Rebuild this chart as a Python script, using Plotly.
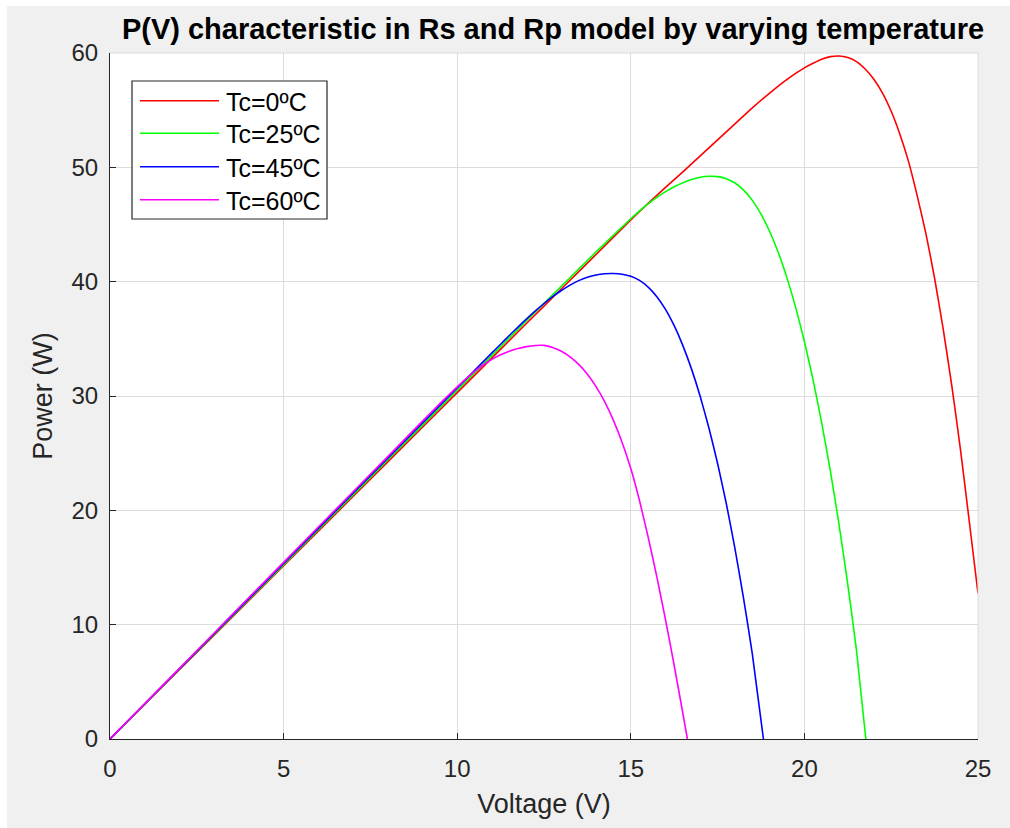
import plotly.graph_objects as go

# P(V) curves of the Rs/Rp single-diode model at four cell temperatures
v_0c = [0, 2, 4, 6, 8, 10, 12, 13, 14, 15, 15.5, 16, 16.5, 17, 17.5, 18, 18.5, 19, 19.5, 20,
        20.25, 20.5, 20.75, 21.0, 21.25, 21.5, 21.75, 22.0, 22.25, 22.5, 22.75, 23.0, 23.25,
        23.5, 23.75, 24.0, 24.25, 24.5, 24.75, 25.0]
p_0c = [0, 6.06, 12.12, 18.18, 24.24, 30.3, 36.36, 39.38, 42.38, 45.4, 46.85, 48.25, 49.6, 51.0,
        52.4, 53.8, 55.2, 56.5, 57.7, 58.7, 59.1, 59.45, 59.68, 59.74, 59.6, 59.25, 58.6, 57.7,
        56.5, 54.9, 52.9, 50.5, 47.5, 44.2, 40.3, 35.8, 30.8, 25.2, 19.0, 12.74]

v_25c = [0, 2, 4, 6, 8, 10, 12, 13, 14, 15, 15.25, 15.5, 15.75, 16.0, 16.25, 16.5, 16.75, 17.0,
         17.25, 17.5, 17.75, 18.0, 18.25, 18.5, 18.75, 19.0, 19.25, 19.5, 19.75, 20.0, 20.25,
         20.5, 20.75, 21.0, 21.25, 21.5, 21.77]
p_25c = [0, 6.1, 12.2, 18.3, 24.4, 30.5, 36.6, 39.6, 42.6, 45.5, 46.19, 46.81, 47.37, 47.87,
         48.3, 48.66, 48.94, 49.13, 49.22, 49.19, 49.01, 48.63, 48.01, 47.11, 45.91, 44.39, 42.53,
         40.31, 37.73, 34.77, 31.41, 27.63, 23.41, 18.71, 13.51, 7.76, 0]

v_45c = [0, 2, 4, 6, 8, 10, 11.0, 11.25, 11.5, 11.75, 12.0, 12.25, 12.5, 12.75, 13.0, 13.25,
         13.5, 13.75, 14.0, 14.25, 14.5, 14.75, 15.0, 15.25, 15.5, 15.75, 16.0, 16.25, 16.5,
         16.75, 17.0, 17.25, 17.5, 17.75, 18.0, 18.25, 18.5, 18.82]
p_45c = [0, 6.14, 12.28, 18.42, 24.56, 30.7, 33.77, 34.53, 35.29, 36.03, 36.75, 37.44, 38.09,
         38.69, 39.23, 39.7, 40.09, 40.39, 40.59, 40.69, 40.71, 40.65, 40.47, 40.11, 39.53, 38.69,
         37.57, 36.15, 34.41, 32.35, 29.95, 27.2, 24.1, 20.6, 16.65, 12.25, 7.45, 0]

v_60c = [0, 2, 4, 6, 8, 9, 9.5, 10.0, 10.25, 10.5, 10.75, 11.0, 11.25, 11.5, 11.75, 12.0, 12.25,
         12.5, 12.75, 13.0, 13.25, 13.5, 13.75, 14.0, 14.25, 14.5, 14.75, 15.0, 15.25, 15.5,
         15.75, 16.0, 16.25, 16.5, 16.63]
p_60c = [0, 6.18, 12.36, 18.54, 24.7, 27.8, 29.33, 30.8, 31.5, 32.15, 32.72, 33.2, 33.6, 33.92,
         34.16, 34.32, 34.42, 34.43, 34.25, 33.92, 33.43, 32.77, 31.91, 30.82, 29.48, 27.87,
         25.94, 23.66, 20.86, 17.66, 14.18, 10.43, 6.43, 2.23, 0]

series_names = ["Tc=0ºC", "Tc=25ºC", "Tc=45ºC", "Tc=60ºC"]
series_colors = ["#ff0000", "#00ff00", "#0000ff", "#ff00ff"]
series_v = [v_0c, v_25c, v_45c, v_60c]
series_p = [p_0c, p_25c, p_45c, p_60c]

x_ticks = [0, 5, 10, 15, 20, 25]
y_ticks = [0, 10, 20, 30, 40, 50, 60]

FONT = "Liberation Sans, Arial, Helvetica, sans-serif"
INK = "#262626"

W, H = 1010, 828
ML, MR, MT, MB = 110, 32, 53, 89
PW, PH = W - ML - MR, H - MT - MB


def px(x):
    return (x - ML) / PW


def py(y):
    return (H - MB - y) / PH


fig = go.Figure()
for v, p, name, color in zip(series_v, series_p, series_names, series_colors):
    fig.add_trace(go.Scatter(
        x=v, y=p, mode="lines", name=name,
        line=dict(color=color, width=1.6, shape="spline", smoothing=0.5),
        showlegend=False, cliponaxis=True,
    ))

shapes = [
    # grey figure background with a thin white margin at the left and top
    dict(type="rect", xref="paper", yref="paper", x0=px(7), x1=px(W + 5), y0=py(H + 5), y1=py(6),
         fillcolor="#f0f0f0", line=dict(width=0), layer="below"),
    dict(type="rect", xref="paper", yref="paper", x0=0, x1=1, y0=0, y1=1,
         fillcolor="#ffffff", line=dict(width=0), layer="below"),
    # light edges on the top and right of the axes
    dict(type="line", xref="paper", yref="paper", x0=0, x1=1, y0=1, y1=1,
         line=dict(color="#dcdcdc", width=1)),
    dict(type="line", xref="paper", yref="paper", x0=1, x1=1, y0=0, y1=1,
         line=dict(color="#dcdcdc", width=1)),
    # legend box
    dict(type="rect", xref="paper", yref="paper", x0=px(132), x1=px(327), y0=py(219), y1=py(81),
         fillcolor="#ffffff", line=dict(color="#262626", width=1.2)),
]

annotations = []
row_y = [100.7, 133.3, 166.7, 199.7]
for ry, name, color in zip(row_y, series_names, series_colors):
    shapes.append(dict(type="line", xref="paper", yref="paper", x0=px(140), x1=px(219),
                       y0=py(ry), y1=py(ry), line=dict(color=color, width=1.6)))
    annotations.append(dict(xref="paper", yref="paper", x=px(224), y=py(ry + 1), text=name,
                            showarrow=False, xanchor="left", yanchor="middle",
                            font=dict(family=FONT, size=25, color="#000000")))

fig.update_layout(
    width=W, height=H,
    margin=dict(l=ML, r=MR, t=MT, b=MB),
    paper_bgcolor="#ffffff",
    plot_bgcolor="rgba(0,0,0,0)",
    title=dict(text="<b>P(V) characteristic in Rs and Rp model by varying temperature</b>",
               xref="container", x=553 / W, xanchor="center",
               yref="container", y=1 - 29 / H, yanchor="middle",
               font=dict(family=FONT, size=29, color="#000000")),
    shapes=shapes,
    annotations=annotations,
    showlegend=False,
    xaxis=dict(range=[0, 25], tickvals=x_ticks, ticks="inside", ticklen=6, tickcolor=INK,
               showline=True, linecolor=INK, linewidth=1.2, mirror=False,
               showgrid=True, gridcolor="#dcdcdc", gridwidth=1, zeroline=False,
               tickfont=dict(family=FONT, size=24, color=INK), ticklabelstandoff=8,
               title=dict(text="Voltage (V)", font=dict(family=FONT, size=27, color=INK),
                          standoff=13)),
    yaxis=dict(range=[0, 60], tickvals=y_ticks, ticks="inside", ticklen=6, tickcolor=INK,
               showline=True, linecolor=INK, linewidth=1.2, mirror=False,
               showgrid=True, gridcolor="#dcdcdc", gridwidth=1, zeroline=False,
               tickfont=dict(family=FONT, size=24, color=INK), ticklabelstandoff=6,
               title=dict(text="Power (W)", font=dict(family=FONT, size=27, color=INK),
                          standoff=10)),
)

fig.write_html("out.html")
